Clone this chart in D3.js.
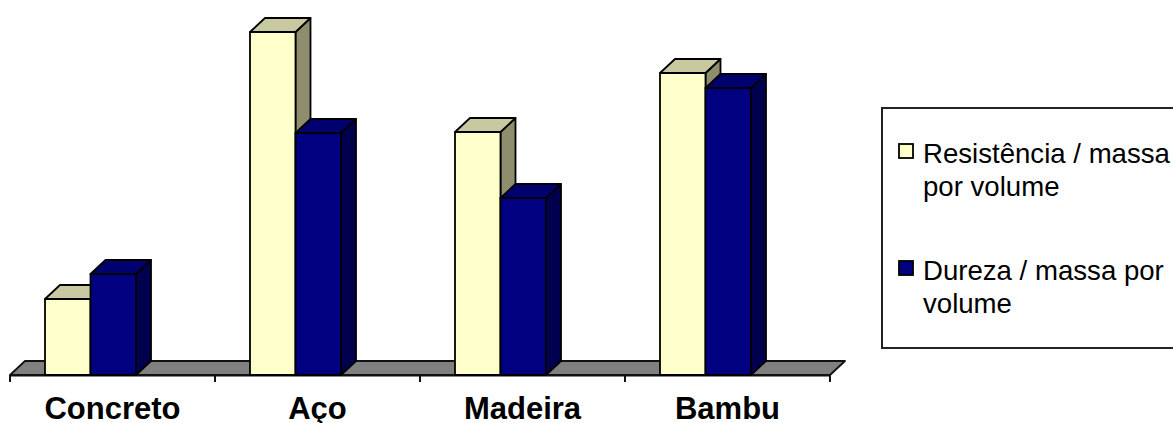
<!DOCTYPE html>
<html>
<head>
<meta charset="utf-8">
<script src="https://cdn.jsdelivr.net/npm/d3@7"></script>
<style>
  html, body { margin: 0; padding: 0; background: #fff; }
  svg { display: block; }
</style>
</head>
<body>
<svg id="chart" width="1173" height="423"></svg>
<script>
// Material categories and the two ratio series (arbitrary units)
const categories = ["Concreto", "Aço", "Madeira", "Bambu"];
const seriesNames = ["Resistência / massa por volume", "Dureza / massa por volume"];
const legendLines = [["Resistência / massa", "por volume"], ["Dureza / massa por", "volume"]];
const resistencia = [76, 343, 243, 302];
const dureza = [101, 242, 177, 287];

const svg = d3.select("#chart");

// 3D depth offsets
const DX = 15, DY = -14;

const x = d3.scaleBand().domain(categories).range([10, 830]).paddingInner(0).paddingOuter(0);
const xs = d3.scaleBand().domain([0, 1]).range([35, 126]);
const y = d3.scaleLinear().domain([0, 350]).range([375, 25]);

const palette = [
  { front: "#FFFFCC", top: "#C9C9A1", side: "#8E8E6E" },
  { front: "#000080", top: "#00006E", side: "#00004E" }
];

// Floor
const x0 = x.range()[0], x1 = x.range()[1], yb = y(0);
svg.append("path")
  .attr("d", `M${x0},${yb} L${x0 + DX},${yb + DY} L${x1 + DX},${yb + DY} L${x1},${yb} Z`)
  .attr("fill", "#808080")
  .attr("stroke", "#111")
  .attr("stroke-width", 1.8)
  .attr("stroke-linejoin", "round");

// Category axis along the front edge of the floor
const axis = d3.axisBottom(x).tickSize(0).tickFormat(d => d);
const gAxis = svg.append("g").attr("transform", `translate(0,${yb})`).call(axis);
gAxis.select(".domain").attr("stroke", "#111").attr("stroke-width", 2);
gAxis.selectAll(".tick text")
  .attr("dy", 0)
  .attr("y", 44)
  .attr("font-family", "Liberation Sans, Arial, sans-serif")
  .attr("font-weight", "bold")
  .attr("font-size", 31)
  .attr("fill", "#000");

// Tick marks at category boundaries
const bounds = categories.map(c => x(c)).concat([x1]);
svg.append("g").selectAll("line").data(bounds).join("line")
  .attr("x1", d => d).attr("x2", d => d)
  .attr("y1", yb).attr("y2", yb + 7)
  .attr("stroke", "#111").attr("stroke-width", 2);

// Bars
const data = [];
categories.forEach((c, i) => {
  [resistencia[i], dureza[i]].forEach((v, s) => data.push({ c, s, v }));
});

const bars = svg.append("g").selectAll("g").data(data).join("g");
bars.each(function(d) {
  const g = d3.select(this);
  const bx = x(d.c) + xs(d.s), bw = xs.bandwidth();
  const top = y(d.v), bot = y(0);
  const col = palette[d.s];
  const common = sel => sel.attr("stroke", "#000").attr("stroke-width", 1.8).attr("stroke-linejoin", "round");
  // side face
  g.append("path")
    .attr("d", `M${bx + bw},${bot} L${bx + bw + DX},${bot + DY} L${bx + bw + DX},${top + DY} L${bx + bw},${top} Z`)
    .attr("fill", col.side).call(common);
  // top face
  g.append("path")
    .attr("d", `M${bx},${top} L${bx + DX},${top + DY} L${bx + bw + DX},${top + DY} L${bx + bw},${top} Z`)
    .attr("fill", col.top).call(common);
  // front face
  g.append("rect")
    .attr("x", bx).attr("y", top).attr("width", bw).attr("height", bot - top)
    .attr("fill", col.front).call(common);
});

// Legend
const lg = svg.append("g");
lg.append("rect")
  .attr("x", 882).attr("y", 108).attr("width", 320).attr("height", 240)
  .attr("fill", "#fff").attr("stroke", "#222").attr("stroke-width", 2);

const legendTop = [163, 280];
seriesNames.forEach((name, i) => {
  lg.append("rect")
    .attr("x", 899).attr("y", legendTop[i] - 19).attr("width", 14).attr("height", 14)
    .attr("fill", palette[i].front).attr("stroke", "#000").attr("stroke-width", 1.8);
  const t = lg.append("text")
    .attr("x", 923).attr("y", legendTop[i])
    .attr("font-family", "Liberation Sans, Arial, sans-serif")
    .attr("font-size", 27.6)
    .attr("fill", "#000");
  legendLines[i].forEach((line, k) => {
    t.append("tspan").attr("x", 923).attr("y", legendTop[i] + k * 33).text(line);
  });
});
</script>
</body>
</html>
